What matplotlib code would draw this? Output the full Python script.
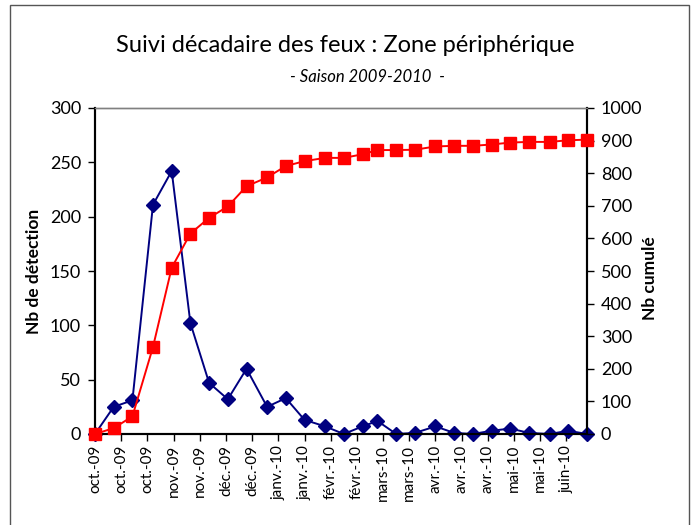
import matplotlib
matplotlib.use("Agg")
import matplotlib.pyplot as plt
import pandas as pd
from matplotlib.patches import Rectangle

plt.rcParams['font.family'] = ['Lato', 'DejaVu Sans']

# Data: decade dates (1st, 11th, 21st of each month)
dates = pd.to_datetime([
    "2009-10-01", "2009-10-11", "2009-10-21",
    "2009-11-01", "2009-11-11", "2009-11-21",
    "2009-12-01", "2009-12-11", "2009-12-21",
    "2010-01-01", "2010-01-11", "2010-01-21",
    "2010-02-01", "2010-02-11", "2010-02-21",
    "2010-03-01", "2010-03-11", "2010-03-21",
    "2010-04-01", "2010-04-11", "2010-04-21",
    "2010-05-01", "2010-05-11", "2010-05-21",
    "2010-06-01", "2010-06-11", "2010-06-21",
])
detections = [0, 25, 31, 211, 242, 102, 47, 32, 60, 25, 33, 13, 7, 0, 7, 12,
              0, 1, 7, 1, 0, 3, 5, 1, 0, 3, 0]
cumul = [0, 18, 54, 267, 510, 615, 663, 698, 760, 787, 822, 837, 847, 847, 858,
         871, 871, 872, 882, 884, 884, 888, 894, 896, 896, 901, 903]

tick_labels = ["oct.-09", "oct.-09", "oct.-09", "nov.-09", "nov.-09", "déc.-09",
               "déc.-09", "janv.-10", "janv.-10", "févr.-10", "févr.-10",
               "mars-10", "mars-10", "avr.-10", "avr.-10", "avr.-10",
               "mai-10", "mai-10", "juin-10"]

title = "Suivi décadaire des feux : Zone périphérique"
subtitle = "- Saison 2009-2010  -"
ylabel_left = "Nb de détection"
ylabel_right = "Nb cumulé"

W, H = 694, 525
fig = plt.figure(figsize=(W / 100, H / 100), dpi=100)

# Outer chart border
fig.patches.append(Rectangle((10 / W, -0.05), (689 - 10) / W, 1.05 - 5 / H,
                             transform=fig.transFigure, fill=False,
                             edgecolor="#555555", linewidth=1.0))

ax = fig.add_axes([95 / W, 1 - 434 / H, (587 - 95) / W, (434 - 108) / H])
ax2 = ax.twinx()

ax.plot(dates, detections, color="#000080", marker="D", markersize=7.5,
        linewidth=1.4, clip_on=False, zorder=3)
ax2.plot(dates, cumul, color="#FF0000", marker="s", markersize=8.5,
         linewidth=1.4, clip_on=False, zorder=3)

start = pd.Timestamp("2009-10-01")
ticks = [start + pd.Timedelta(days=14 * i) for i in range(len(tick_labels))]
ax.set_xlim(dates[0], dates[-1])
ax.set_xticks(ticks)
ax.set_xticklabels(tick_labels, rotation=90)

ax.set_ylim(0, 300)
ax.set_yticks(range(0, 301, 50))
ax2.set_ylim(0, 1000)
ax2.set_yticks(range(0, 1001, 100))

for a in (ax, ax2):
    a.tick_params(axis="both", direction="out", length=5, width=1.0,
                  color="black", labelsize=13, pad=5)
ax.tick_params(axis="x", labelsize=11, pad=3)
for s in ("left", "bottom", "right"):
    for a in (ax, ax2):
        a.spines[s].set_color("black")
        a.spines[s].set_linewidth(1.5)
for a in (ax, ax2):
    a.spines["top"].set_color("#808080")
    a.spines["top"].set_linewidth(1.0)

ax.set_ylabel(ylabel_left, fontsize=12.5, fontweight="bold", labelpad=6)
ax2.set_ylabel(ylabel_right, fontsize=12.5, fontweight="bold")
ax2.yaxis.set_label_coords(1.112, 0.478)

fig.text(0.497, 1 - 46 / H, title, ha="center", va="center", fontsize=17)
fig.text(0.530, 1 - 77 / H, subtitle, ha="center", va="center", fontsize=12,
         style="italic")

fig.savefig("out.png", dpi=100)
